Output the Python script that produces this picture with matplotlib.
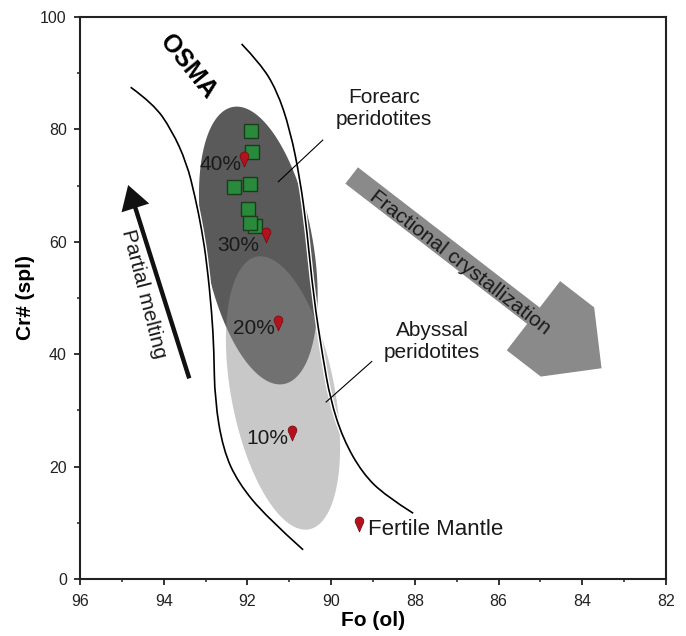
import numpy as np
import matplotlib
matplotlib.use("Agg")
import matplotlib.pyplot as plt
import matplotlib.patheffects as pe
from matplotlib.path import Path
from matplotlib.patches import Polygon, PathPatch

plt.rcParams['font.family'] = ['Liberation Sans', 'DejaVu Sans']

# --- data (Fo in ol, Cr# in spl) ---
sample_fo = [91.92, 91.88, 92.33, 91.94, 91.98, 91.83, 91.95]
sample_cr = [79.7, 76.0, 69.8, 70.2, 65.8, 62.8, 63.4]

melt_labels = ["40%", "30%", "20%", "10%"]
melt_fo = [92.07, 91.56, 91.28, 90.93]
melt_cr = [74.7, 61.2, 45.6, 25.9]
fertile_fo = [89.33]
fertile_cr = [9.8]

# OSMA boundaries
osma_left_fo = [94.79, 94.25, 93.81, 93.45, 93.25, 93.09, 92.97, 92.85, 92.80, 92.78, 92.58, 92.22, 91.54, 90.67]
osma_left_cr = [87.5, 84.6, 79.9, 74.0, 68.0, 62.1, 56.2, 47.3, 40.7, 31.9, 23.0, 17.1, 11.0, 5.2]
osma_right_fo = [92.14, 91.70, 91.30, 90.98, 90.74, 90.58, 90.42, 90.20, 90.02, 89.72, 89.25, 88.70, 88.04]
osma_right_cr = [95.2, 91.8, 87.0, 79.9, 71.0, 62.1, 50.2, 39.5, 32.0, 25.0, 18.8, 14.8, 11.7]

# fields: centre, half major axis vector, conjugate half axis vector
forearc_c, forearc_a, forearc_b = (91.74, 59.34), (0.61, 24.65), (-1.28, 1.79)
abyssal_c, abyssal_a, abyssal_b = (91.15, 33.1), (0.63, 24.25), (-1.21, 1.86)


def ellipse_pts(c, a, b, n=240):
    t = np.linspace(0, 2 * np.pi, n)
    x = c[0] + a[0] * np.cos(t) + b[0] * np.sin(t)
    y = c[1] + a[1] * np.cos(t) + b[1] * np.sin(t)
    return np.column_stack([x, y])


def smooth_path(xs, ys):
    # quadratic bezier through midpoints, control at the read points
    p = np.column_stack([xs, ys])
    verts = [p[0]]
    codes = [Path.MOVETO]
    for i in range(1, len(p) - 1):
        mid = (p[i] + p[i + 1]) / 2 if i < len(p) - 2 else p[i + 1]
        verts += [p[i], mid]
        codes += [Path.CURVE3, Path.CURVE3]
    return Path(verts, codes)


def block_arrow(ax, tail, tip, bw, hw, hl, sl, **kw):
    # widths / lengths in pixels, drawn in display space
    T = ax.transData
    p0 = T.transform(tail)
    p1 = T.transform(tip)
    d = p1 - p0
    L = np.hypot(*d)
    u = d / L
    n = np.array([-u[1], u[0]])
    prof = [(0, bw), (L - hl, bw), (L - hl, hw), (L - sl, hw), (L, 0),
            (L - sl, -hw), (L - hl, -hw), (L - hl, -bw), (0, -bw)]
    disp = np.array([p0 + s * u + q * n for s, q in prof])
    return Polygon(T.inverted().transform(disp), closed=True, **kw)


# teardrop (pin) marker
th = np.linspace(np.radians(-38), np.radians(218), 40)
pin_v = [(0.42 * np.cos(a), 0.3 + 0.42 * np.sin(a)) for a in th] + [(0, -0.72)]
pin = Path(pin_v + [pin_v[0]], [Path.MOVETO] + [Path.LINETO] * (len(pin_v) - 1) + [Path.CLOSEPOLY])

fig = plt.figure(figsize=(6.86, 6.36), dpi=100)
ax = fig.add_axes([80 / 686, 57 / 636, 586 / 686, 562 / 636])
ax.set_xlim(96, 82)
ax.set_ylim(0, 100)

# fields
ax.add_patch(Polygon(ellipse_pts(forearc_c, forearc_a, forearc_b), closed=True,
                     facecolor='#5a5a5a', edgecolor='none', zorder=1))
ax.add_patch(Polygon(ellipse_pts(abyssal_c, abyssal_a, abyssal_b), closed=True,
                     facecolor='#8c8c8c', alpha=0.48, edgecolor='none', zorder=2))

# OSMA lines
halo = [pe.withStroke(linewidth=3.2, foreground='white')]
for xs, ys in [(osma_left_fo, osma_left_cr), (osma_right_fo, osma_right_cr)]:
    ax.add_patch(PathPatch(smooth_path(xs, ys), fill=False, edgecolor='black',
                           lw=1.2, zorder=3, path_effects=halo))

# leader lines
ax.plot([90.20, 91.26], [78.1, 70.7], color='black', lw=0.8, zorder=4)
ax.plot([89.03, 90.12], [38.7, 31.5], color='black', lw=0.8, zorder=4)

# arrows
ax.add_patch(block_arrow(ax, (89.51, 71.8), (83.54, 37.5), 10.3, 43.7, 86, 43,
                         facecolor='#8a8a8a', edgecolor='none', zorder=2))
ax.add_patch(block_arrow(ax, (93.39, 35.7), (94.85, 70.1), 2.2, 14.5, 24, 24,
                         facecolor='#111111', edgecolor='none', zorder=2))

# samples and melting model
ax.plot(sample_fo, sample_cr, linestyle='none', marker='s', ms=9.5,
        markerfacecolor='#2a8a3c', markeredgecolor='#1c3a1e', markeredgewidth=1.0, zorder=5)
ax.plot(melt_fo + fertile_fo, melt_cr + fertile_cr, linestyle='none', marker=pin, ms=10.8,
        markerfacecolor='#b3121c', markeredgecolor='#6e0a10', markeredgewidth=0.5, zorder=6)

lab_dx = [0.07, 0.16, 0.06, 0.09]
lab_dy = [-0.9, -1.8, -1.0, -0.9]
for lab, x, y, dx, dy in zip(melt_labels, melt_fo, melt_cr, lab_dx, lab_dy):
    ax.text(x + dx, y + dy, lab, ha='right', va='center', fontsize=15, color='#1a1a1a', zorder=7)
ax.text(fertile_fo[0] - 0.22, fertile_cr[0] - 1.0, "Fertile Mantle", ha='left', va='center',
        fontsize=16, color='#1a1a1a', zorder=7)

ax.text(93.42, 91.1, "OSMA", rotation=-51, rotation_mode='anchor', ha='center', va='center',
        fontsize=18, fontweight='bold')
ax.text(88.74, 83.8, "Forearc\nperidotites", ha='center', va='center', fontsize=15, color='#1a1a1a')
ax.text(87.59, 42.2, "Abyssal\nperidotites", ha='center', va='center', fontsize=15, color='#1a1a1a')
ax.text(94.49, 50.8, "Partial melting", rotation=-75.6, rotation_mode='anchor',
        ha='center', va='center', fontsize=15, color='#1a1a1a', zorder=7)
ax.text(86.92, 56.35, "Fractional crystallization", rotation=-37.7, rotation_mode='anchor',
        ha='center', va='center', fontsize=15, color='#1a1a1a', zorder=7)

# axes styling
ax.set_xticks(np.arange(96, 81, -2))
ax.set_yticks(np.arange(0, 101, 20))
ax.set_xticks(np.arange(95, 82, -2), minor=True)
ax.set_yticks(np.arange(10, 100, 20), minor=True)
ax.tick_params(which='major', direction='out', length=4, width=1.3, labelsize=11.5, colors='#222222')
ax.tick_params(which='minor', direction='out', length=2.2, width=1.1, colors='#222222')
ax.tick_params(axis='x', which='major', pad=7)
ax.tick_params(axis='y', which='major', pad=5.5)
for s in ax.spines.values():
    s.set_linewidth(1.5)
    s.set_color('#222222')

ax.set_xlabel("Fo (ol)", fontsize=15, fontweight='bold', labelpad=1)
ax.set_ylabel("Cr# (spl)", fontsize=15, fontweight='bold', labelpad=4)

fig.savefig("out.png", dpi=100)
